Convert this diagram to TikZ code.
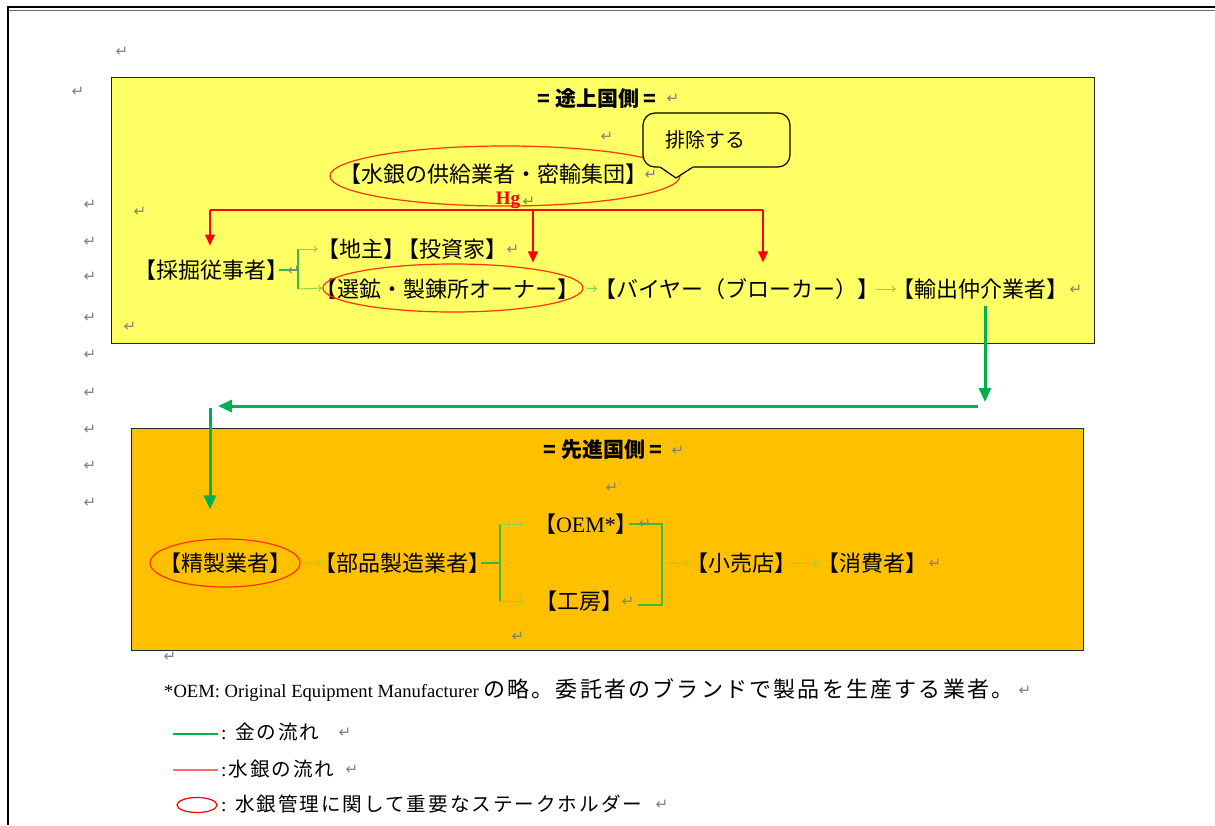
\documentclass[tikz,border=0pt]{standalone}
\usepackage{fontspec}
\setmainfont{Liberation Serif}
\newfontfamily\jp{Noto Sans CJK JP}
\newfontfamily\jpw[LetterSpace=10]{Noto Sans CJK JP}
\newfontfamily\sym{DejaVu Sans}
\usetikzlibrary{shapes.geometric,arrows.meta}
\definecolor{yel}{HTML}{FFFF66}
\definecolor{org}{HTML}{FFC000}
\definecolor{dkg}{HTML}{00B050}
\definecolor{mdg}{HTML}{3CB83C}
\definecolor{lgn}{HTML}{92D050}
\definecolor{ovl}{HTML}{FF3300}
\definecolor{pm}{HTML}{808080}
\definecolor{lred}{HTML}{FF6F6F}
\tikzset{
  lbl/.style={font=\jp\fontsize{22}{24}\selectfont, inner xsep=-9pt, inner ysep=2pt},
  ttl/.style={font=\jp\bfseries\fontsize{21}{24}\selectfont, inner sep=0pt},
  ring/.style={ellipse, draw=ovl, line width=1.2pt, inner sep=0pt},
  pmk/.style={font=\sym\fontsize{15}{15}\selectfont, text=pm, inner sep=0pt},
  hgline/.style={draw=red, line width=1.2pt},
  hgarrow/.style={draw=red, line width=1.2pt, -{Triangle[length=11pt,width=10pt]}},
  flow/.style={draw=lgn, line width=1pt, -{To[length=4pt,width=7pt]}},
  money/.style={draw=mdg, line width=1.6pt},
  bigflow/.style={draw=dkg, line width=3pt, -{Triangle[length=14pt,width=12pt]}},
  panel/.style={draw=black!85, line width=1.2pt, anchor=north west, inner sep=0pt},
  legtxt/.style={font=\jpw\fontsize{19.6}{22}\selectfont, inner sep=0pt, anchor=west},
}
\begin{document}
\begin{tikzpicture}[x=1pt,y=-1pt]
\useasboundingbox (0,0) rectangle (1215,825);
\fill[white] (0,0) rectangle (1215,825);
% page frame
\draw[line width=2pt] (8,7) -- (1215,7);
\draw[line width=0.6pt, black!60] (8,10.5) -- (1215,10.5);
\draw[line width=2pt] (8,6) -- (8,825);

% panels
\node[panel, fill=yel, minimum width=983pt, minimum height=266pt] (dev) at (111,77) {};
\node[panel, fill=org, minimum width=952pt, minimum height=222pt] (adv) at (131,428) {};

% titles
\node[ttl] (t1) at (597,99) {= 途上国側 =};
\node[ttl] (t2) at (603,450) {= 先進国側 =};

% developing side labels
\node[ring, minimum width=350pt, minimum height=60pt] (e1) at (505,176) {};
\node[lbl] (sup) at (493,174) {【水銀の供給業者・密輸集団】};
\node[font=\bfseries\fontsize{19}{19}\selectfont, text=red, inner sep=0pt] (hg) at (508,200) {Hg};

\node[lbl] (miner) at (211,270) {【採掘従事者】};
\node[lbl] (land) at (412,249) {【地主】\kern-8pt【投資家】};
\node[lbl] (owner) at (447,289) {【選鉱・製錬所オーナー】};
\node[ring, minimum width=260pt, minimum height=48pt] (e2) at (453,288) {};
\node[lbl] (buyer) at (737,289) {【バイヤー（ブローカー）】};
\node[lbl] (exp) at (980,289) {【輸出仲介業者】};

% callout
\node[draw=black, line width=1.2pt, fill=yel, rounded corners=12pt,
      minimum width=147pt, minimum height=54pt, text width=103pt, inner xsep=22pt,
      align=left, font=\jp\fontsize{20}{22}\selectfont] (bub) at (716.5,140) {排除する};
\fill[yel] (658,165.4) -- (676,178) -- (695,165.4) -- cycle;
\draw[line width=1.2pt, line join=miter] (660,167) -- (676,178) -- (693,167);

% mercury flow
\coordinate (hl) at (210,210);
\coordinate (hm) at (533,210);
\coordinate (hr) at (763,210);
\draw[hgline] (hl) -- (hr);
\draw[hgarrow, shorten >=12pt] (hl) -- (hl |- miner.north);
\draw[hgarrow, shorten >=1pt] (hm) -- (hm |- e2.north);
\draw[hgarrow, shorten >=14pt] (hr) -- (hr |- buyer.north);

% money flow developing side
\coordinate (j1) at (298,270);
\draw[money] (miner.east) -- (j1);
\draw[money] (j1 |- land) -- (j1 |- owner);
\draw[flow, shorten >=8pt] (j1 |- land) -- (land.west);
\draw[flow] (j1 |- owner) -- (e2.west);
\draw[flow, shorten <=2pt, shorten >=6pt] (e2.east) -- (buyer.west);
\draw[flow, shorten <=5pt, shorten >=5pt] (buyer.east) -- (exp.west);

% big money arrows
\coordinate (ga) at (985,402);
\coordinate (gb) at (978,406);
\coordinate (gc) at (218,406);
\coordinate (gd) at (210,408);
\draw[bigflow, shorten <=5pt] ([xshift=5pt]exp.south) -- (ga);
\draw[bigflow] (gb) -- (gc);

% developed side labels
\node[ring, minimum width=150pt, minimum height=48pt] (e3) at (225,563) {};
\draw[bigflow, shorten >=29pt] (gd) -- (gd |- e3.north);
\node[lbl] (ref) at (225,563) {【精製業者】};
\node[lbl] (parts) at (402,563) {【部品製造業者】};
\node[lbl] (oem) at (586,524) {【{\rmfamily OEM*}】};
\node[lbl] (work) at (579,601) {【工房】};
\node[lbl] (retail) at (741,563) {【小売店】};
\node[lbl] (cons) at (872,563) {【消費者】};

\draw[flow, shorten <=2pt, shorten >=2pt] (e3.east) -- (parts.west);
\coordinate (j2) at (500,563);
\draw[money] (parts.east) -- (j2);
\draw[money] (j2 |- oem) -- (j2 |- work);
\draw[flow, shorten >=20pt] (j2 |- oem) -- (oem.west);
\draw[flow, shorten >=20pt] (j2 |- work) -- (work.west);
\coordinate (j3) at (662,563);
\draw[money] (oem.east) -- (j3 |- oem) -- ([yshift=-4pt]j3 |- work) -- ([xshift=24pt,yshift=-4pt]work.east);
\draw[flow, shorten <=4pt, shorten >=6pt] (j3) -- (retail.west);
\draw[flow, shorten <=6pt, shorten >=8pt] (retail.east) -- (cons.west);

% footnote
\node[inner sep=0pt, anchor=west, font=\fontsize{18.6}{20}\selectfont] (note) at (164,690)
  {*OEM: Original Equipment Manufacturer {\jpw\fontsize{22}{24}\selectfont の略。委託者のブランドで製品を生産する業者。}};

% legend
\coordinate (la) at (173,734);
\coordinate (lb) at (218,734);
\draw[draw=dkg, line width=1.2pt] (la) -- (lb);
\node[legtxt] (leg1) at (221,732) {{\rmfamily:} 金の流れ};
\coordinate (lc) at (173,770);
\coordinate (ld) at (218,770);
\draw[draw=lred, line width=2pt] (lc) -- (ld);
\node[legtxt] (leg2) at (221,769) {{\rmfamily:}\kern2pt 水銀の流れ};
\node[ellipse, draw=red, line width=1.2pt, minimum width=40pt, minimum height=15pt, inner sep=0pt] (le) at (197,805) {};
\node[legtxt] (leg3) at (221,804) {{\rmfamily:} 水銀管理に関して重要なステークホルダー};

% paragraph marks
\foreach \x/\y [count=\i] in {122/52, 78/92, 90/205, 90/242, 90/277, 90/318, 90/355, 90/393,
  90/430, 90/466, 90/503, 140/212, 130/327, 607/137, 673/99, 651/175, 529/202, 513/250,
  294/271, 1076/290, 678/451, 612/488, 645/524, 628/602, 935/564, 518/637, 170/657,
  1025/691, 345/733, 352/770, 662/805}
  \node[pmk] (pm\i) at (\x,\y) {↵};
\end{tikzpicture}
\end{document}
